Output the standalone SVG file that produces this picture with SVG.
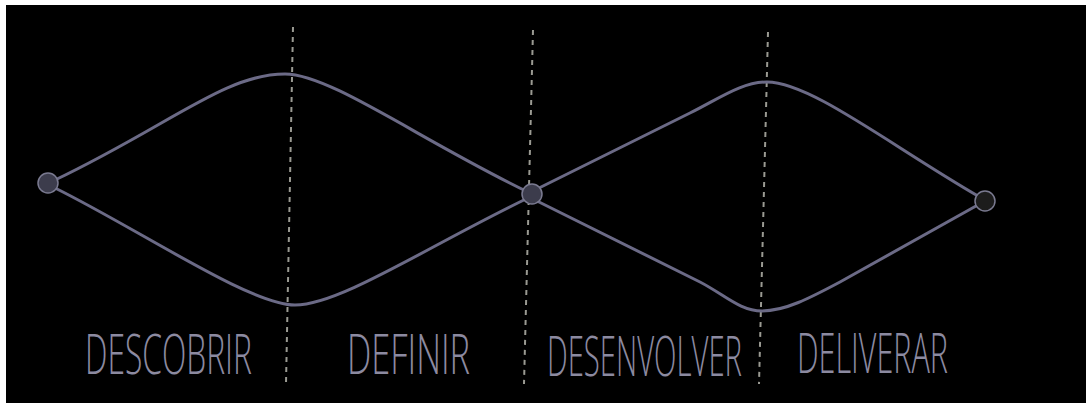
<svg xmlns="http://www.w3.org/2000/svg" width="1086" height="403" viewBox="0 0 1086 403">
<style>
.curve{fill:none;stroke:#6b6a86;stroke-width:3;stroke-linecap:round;stroke-linejoin:round}
.divider{fill:none;stroke:#9a9a92;stroke-width:2;stroke-dasharray:5 5}
.node{fill:#3c3c4c;stroke:#7a7a90;stroke-width:1.5}
.label{font-family:"Open Sans","Liberation Sans",sans-serif;font-size:31px;fill:#8c8aa0;font-weight:300}
</style>
<rect x="0" y="0" width="1086" height="403" fill="#ffffff"/>
<rect x="6" y="5" width="1080" height="398" fill="#000000"/>
<g id="dividers">
<line class="divider" x1="293" y1="27" x2="286" y2="384"/>
<line class="divider" x1="533" y1="30" x2="524" y2="384"/>
<line class="divider" x1="768" y1="32" x2="759" y2="384"/>
</g>
<g id="connectors">
<path class="curve" d="M55,180 C170,125 225,74 285,74 C330,74 420,140 528,192"/>
<path class="curve" d="M55,188 C140,230 250,305 295,305 C340,305 430,245 528,198"/>
<path class="curve" d="M535,190 L690,113 C720,98 742,82 767,82 C810,82 890,145 978,196"/>
<path class="curve" d="M535,200 L700,282 C725,295 740,311 762,311 C785,311 810,298 840,282 L976,206"/>
</g>
<g id="node-start"><circle class="node" cx="48" cy="183" r="10"/></g>
<g id="node-middle"><circle class="node" cx="532" cy="194" r="10"/></g>
<g id="node-end"><circle class="node" cx="985" cy="201" r="10" style="fill:#1c1c1c"/></g>
<g id="label-descobrir"><text class="label" transform="translate(85,374) scale(1,1.8)" textLength="167" lengthAdjust="spacingAndGlyphs">DESCOBRIR</text></g>
<g id="label-definir"><text class="label" transform="translate(347,374) scale(1,1.8)" textLength="123" lengthAdjust="spacingAndGlyphs">DEFINIR</text></g>
<g id="label-desenvolver"><text class="label" transform="translate(547,376) scale(1,1.8)" textLength="195" lengthAdjust="spacingAndGlyphs">DESENVOLVER</text></g>
<g id="label-deliverar"><text class="label" transform="translate(797,373) scale(1,1.8)" textLength="151" lengthAdjust="spacingAndGlyphs">DELIVERAR</text></g>
</svg>
